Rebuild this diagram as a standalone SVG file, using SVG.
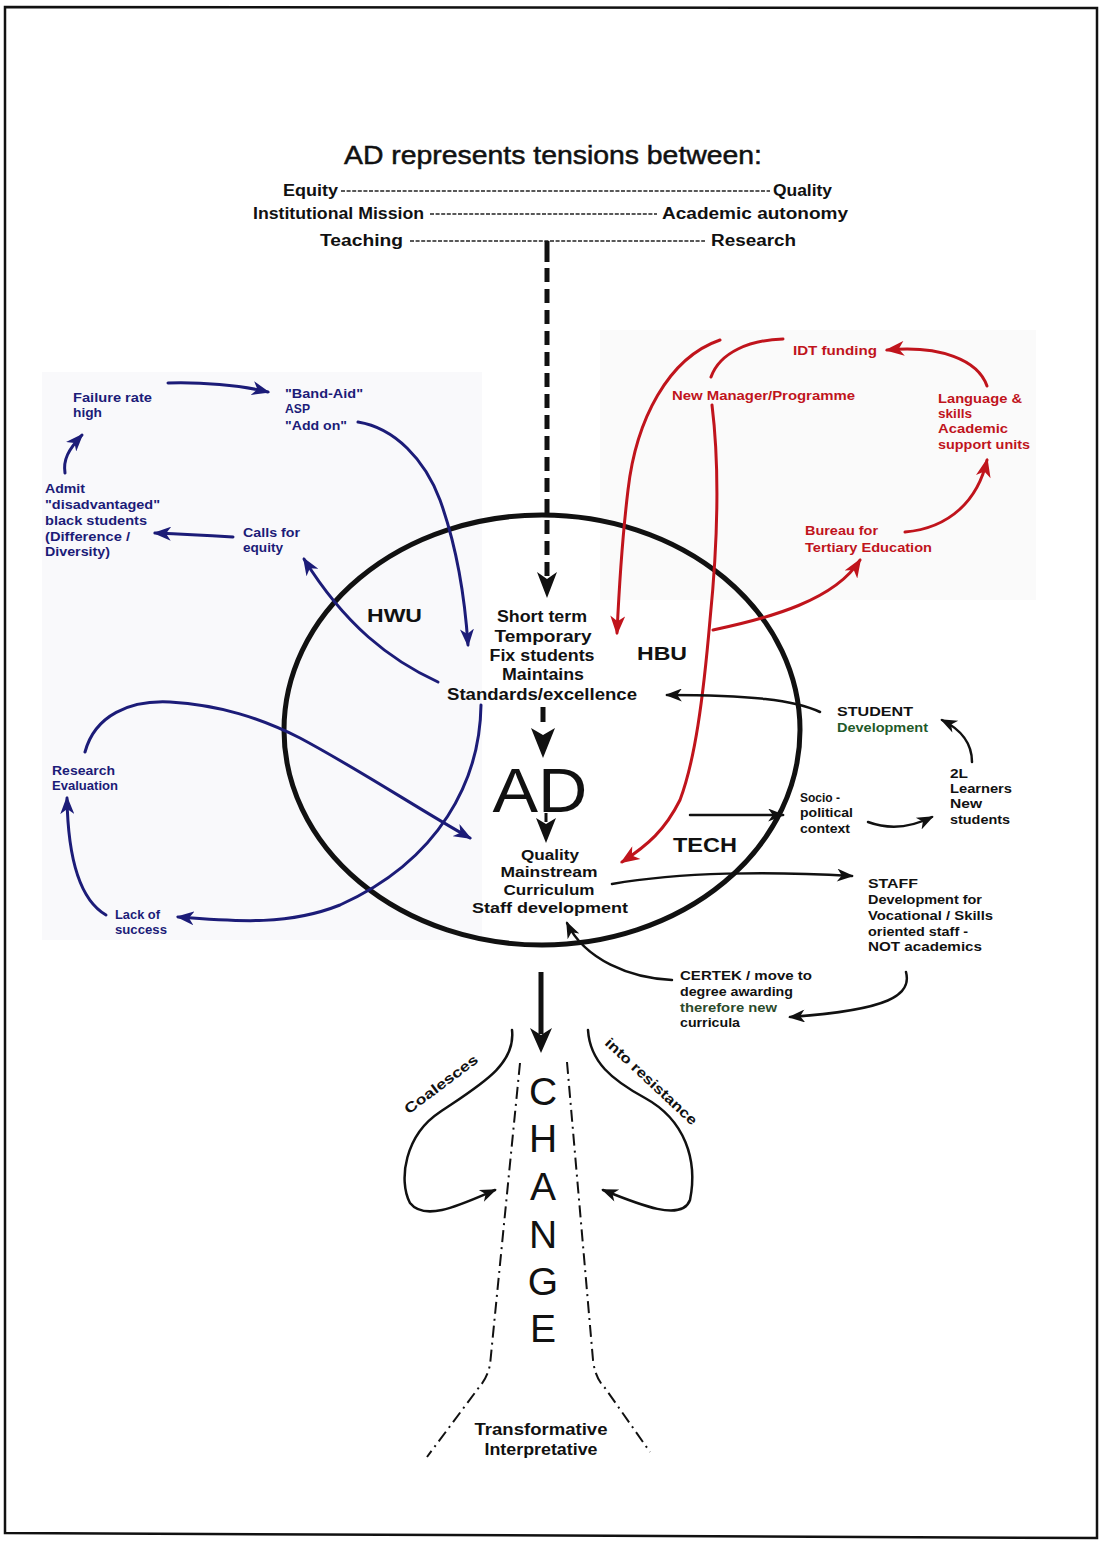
<svg xmlns="http://www.w3.org/2000/svg" width="1099" height="1544" viewBox="0 0 1099 1544">
<style>
text{font-family:"Liberation Sans",Arial,sans-serif;font-weight:bold;fill:#111}
.s{font-size:13px}
.m{font-size:16px}
.n{font-size:15.5px}
.c{text-anchor:middle}
.blue{fill:#1c1c78}
.red{fill:#c0141c}
.grn{fill:#1f5a2a}
.lb{fill:none;stroke:#1c1c78;stroke-width:3;stroke-linecap:round}
.lr{fill:none;stroke:#c0141c;stroke-width:3;stroke-linecap:round}
.lk{fill:none;stroke:#111;stroke-width:2.5;stroke-linecap:round}
.dd{fill:none;stroke:#111;stroke-width:2;stroke-dasharray:12 5 2 5}
.hy{stroke:#222;stroke-width:1.3;stroke-dasharray:4 1.6}
</style>
<defs>
<marker id="mb" viewBox="0 0 18 14" refX="16" refY="7" markerWidth="18" markerHeight="14" orient="auto" markerUnits="userSpaceOnUse"><path d="M0,0 L18,7 L0,14 L5,7z" fill="#1c1c78"/></marker>
<marker id="mr" viewBox="0 0 18 14" refX="16" refY="7" markerWidth="20" markerHeight="15" orient="auto" markerUnits="userSpaceOnUse"><path d="M0,0 L18,7 L0,14 L5,7z" fill="#c0141c"/></marker>
<marker id="mk" viewBox="0 0 18 14" refX="16" refY="7" markerWidth="18" markerHeight="13" orient="auto" markerUnits="userSpaceOnUse"><path d="M0,0 L18,7 L0,14 L5,7z" fill="#111"/></marker>
</defs>
<rect width="1099" height="1544" fill="#fff"/>
<rect x="42" y="372" width="440" height="568" fill="#f9f9fb"/>
<rect x="600" y="330" width="436" height="270" fill="#fafafa"/>
<path d="M5,7 L1097,8 L1097,1538 L5,1533 Z" fill="none" stroke="#111" stroke-width="2.5"/>

<g id="title">
<text x="553" y="164" class="c" style="font-size:26px;font-weight:normal;stroke:#111;stroke-width:0.5" textLength="418" lengthAdjust="spacingAndGlyphs">AD represents tensions between:</text>
<text x="283" y="196" class="m" textLength="55" lengthAdjust="spacingAndGlyphs">Equity</text>
<line x1="341" y1="191" x2="770" y2="191" class="hy"/>
<text x="773" y="196" class="m" textLength="59" lengthAdjust="spacingAndGlyphs">Quality</text>
<text x="253" y="219" class="m" textLength="171" lengthAdjust="spacingAndGlyphs">Institutional Mission</text>
<line x1="430" y1="214" x2="657" y2="214" class="hy"/>
<text x="662" y="219" class="m" textLength="186" lengthAdjust="spacingAndGlyphs">Academic autonomy</text>
<text x="320" y="246" class="m" textLength="83" lengthAdjust="spacingAndGlyphs">Teaching</text>
<line x1="410" y1="241" x2="705" y2="241" class="hy"/>
<text x="711" y="246" class="m" textLength="85" lengthAdjust="spacingAndGlyphs">Research</text>
</g>

<g id="ellipse-ad">
<ellipse cx="542" cy="730" rx="258" ry="215" fill="none" stroke="#111" stroke-width="5"/>
</g>

<g id="node-short-term">
<text x="542" y="622" class="m c" textLength="90" lengthAdjust="spacingAndGlyphs">Short term</text>
<text x="543" y="642" class="m c" textLength="97" lengthAdjust="spacingAndGlyphs">Temporary</text>
<text x="542" y="661" class="m c" textLength="105" lengthAdjust="spacingAndGlyphs">Fix students</text>
<text x="543" y="680" class="m c" textLength="82" lengthAdjust="spacingAndGlyphs">Maintains</text>
<text x="542" y="700" class="m c" textLength="190" lengthAdjust="spacingAndGlyphs">Standards/excellence</text>
</g>
<g id="node-ad">
<text x="540" y="812" class="c" style="font-size:63px;font-weight:normal" textLength="95" lengthAdjust="spacingAndGlyphs">AD</text>
</g>
<g id="node-quality">
<text x="550" y="860" class="n c" textLength="58" lengthAdjust="spacingAndGlyphs">Quality</text>
<text x="549" y="877" class="n c" textLength="97" lengthAdjust="spacingAndGlyphs">Mainstream</text>
<text x="549" y="895" class="n c" textLength="91" lengthAdjust="spacingAndGlyphs">Curriculum</text>
<text x="550" y="913" class="n c" textLength="156" lengthAdjust="spacingAndGlyphs">Staff development</text>
</g>
<g id="node-hwu"><text x="367" y="622" style="font-size:19px" textLength="55" lengthAdjust="spacingAndGlyphs">HWU</text></g>
<g id="node-hbu"><text x="637" y="660" style="font-size:19px" textLength="50" lengthAdjust="spacingAndGlyphs">HBU</text></g>
<g id="node-tech"><text x="673" y="852" style="font-size:21px" textLength="64" lengthAdjust="spacingAndGlyphs">TECH</text></g>

<g id="node-failure">
<text x="73" y="402" class="s blue" textLength="79" lengthAdjust="spacingAndGlyphs">Failure rate</text>
<text x="73" y="417" class="s blue" textLength="29" lengthAdjust="spacingAndGlyphs">high</text>
</g>
<g id="node-bandaid">
<text x="285" y="398" class="s blue" textLength="78" lengthAdjust="spacingAndGlyphs">"Band-Aid"</text>
<text x="285" y="413" class="s blue" textLength="25" lengthAdjust="spacingAndGlyphs">ASP</text>
<text x="285" y="430" class="s blue" textLength="62" lengthAdjust="spacingAndGlyphs">"Add on"</text>
</g>
<g id="node-admit">
<text x="45" y="493" class="s blue" textLength="40" lengthAdjust="spacingAndGlyphs">Admit</text>
<text x="45" y="509" class="s blue" textLength="115" lengthAdjust="spacingAndGlyphs">"disadvantaged"</text>
<text x="45" y="525" class="s blue" textLength="102" lengthAdjust="spacingAndGlyphs">black students</text>
<text x="45" y="541" class="s blue" textLength="85" lengthAdjust="spacingAndGlyphs">(Difference /</text>
<text x="45" y="556" class="s blue" textLength="65" lengthAdjust="spacingAndGlyphs">Diversity)</text>
</g>
<g id="node-calls">
<text x="243" y="537" class="s blue" textLength="57" lengthAdjust="spacingAndGlyphs">Calls for</text>
<text x="243" y="552" class="s blue" textLength="40" lengthAdjust="spacingAndGlyphs">equity</text>
</g>
<g id="node-research">
<text x="52" y="775" class="s blue" textLength="63" lengthAdjust="spacingAndGlyphs">Research</text>
<text x="52" y="790" class="s blue" textLength="66" lengthAdjust="spacingAndGlyphs">Evaluation</text>
</g>
<g id="node-lack">
<text x="115" y="919" class="s blue" textLength="45" lengthAdjust="spacingAndGlyphs">Lack of</text>
<text x="115" y="934" class="s blue" textLength="52" lengthAdjust="spacingAndGlyphs">success</text>
</g>

<g id="node-idt"><text x="793" y="355" class="s red" textLength="84" lengthAdjust="spacingAndGlyphs">IDT funding</text></g>
<g id="node-newmanager"><text x="672" y="400" class="s red" textLength="183" lengthAdjust="spacingAndGlyphs">New Manager/Programme</text></g>
<g id="node-language">
<text x="938" y="403" class="s red" textLength="84" lengthAdjust="spacingAndGlyphs">Language &amp;</text>
<text x="938" y="418" class="s red" textLength="34" lengthAdjust="spacingAndGlyphs">skills</text>
<text x="938" y="433" class="s red" textLength="70" lengthAdjust="spacingAndGlyphs">Academic</text>
<text x="938" y="449" class="s red" textLength="92" lengthAdjust="spacingAndGlyphs">support units</text>
</g>
<g id="node-bureau">
<text x="805" y="535" class="s red" textLength="73" lengthAdjust="spacingAndGlyphs">Bureau for</text>
<text x="805" y="552" class="s red" textLength="127" lengthAdjust="spacingAndGlyphs">Tertiary Education</text>
</g>

<g id="node-student">
<text x="837" y="716" class="s" textLength="76" lengthAdjust="spacingAndGlyphs">STUDENT</text>
<text x="837" y="732" class="s grn" textLength="91" lengthAdjust="spacingAndGlyphs">Development</text>
</g>
<g id="node-2l">
<text x="950" y="778" class="s" textLength="18" lengthAdjust="spacingAndGlyphs">2L</text>
<text x="950" y="793" class="s" textLength="62" lengthAdjust="spacingAndGlyphs">Learners</text>
<text x="950" y="808" class="s" textLength="32" lengthAdjust="spacingAndGlyphs">New</text>
<text x="950" y="824" class="s" textLength="60" lengthAdjust="spacingAndGlyphs">students</text>
</g>
<g id="node-socio">
<text x="800" y="802" class="s" textLength="40" lengthAdjust="spacingAndGlyphs">Socio -</text>
<text x="800" y="817" class="s" textLength="53" lengthAdjust="spacingAndGlyphs">political</text>
<text x="800" y="833" class="s" textLength="50" lengthAdjust="spacingAndGlyphs">context</text>
</g>
<g id="node-staff">
<text x="868" y="888" class="s" textLength="50" lengthAdjust="spacingAndGlyphs">STAFF</text>
<text x="868" y="904" class="s" textLength="114" lengthAdjust="spacingAndGlyphs">Development for</text>
<text x="868" y="920" class="s" textLength="125" lengthAdjust="spacingAndGlyphs">Vocational / Skills</text>
<text x="868" y="936" class="s" textLength="100" lengthAdjust="spacingAndGlyphs">oriented staff -</text>
<text x="868" y="951" class="s" textLength="114" lengthAdjust="spacingAndGlyphs">NOT academics</text>
</g>
<g id="node-certek">
<text x="680" y="980" class="s" textLength="132" lengthAdjust="spacingAndGlyphs">CERTEK / move to</text>
<text x="680" y="996" class="s" textLength="113" lengthAdjust="spacingAndGlyphs">degree awarding</text>
<text x="680" y="1012" class="s" style="fill:#2b4a2b" textLength="97" lengthAdjust="spacingAndGlyphs">therefore new</text>
<text x="680" y="1027" class="s" textLength="60" lengthAdjust="spacingAndGlyphs">curricula</text>
</g>

<g id="node-change">
<text x="543" y="1105" class="c" style="font-size:39px;font-weight:normal">C</text>
<text x="543" y="1152" class="c" style="font-size:39px;font-weight:normal">H</text>
<text x="543" y="1200" class="c" style="font-size:39px;font-weight:normal">A</text>
<text x="543" y="1248" class="c" style="font-size:39px;font-weight:normal">N</text>
<text x="543" y="1295" class="c" style="font-size:39px;font-weight:normal">G</text>
<text x="543" y="1342" class="c" style="font-size:39px;font-weight:normal">E</text>
</g>
<g id="node-coalesces"><text x="444" y="1088" class="c" style="font-size:14px" transform="rotate(-37 444 1088)" textLength="88" lengthAdjust="spacingAndGlyphs">Coalesces</text></g>
<g id="node-resistance"><text x="648" y="1085" class="c" style="font-size:14px" transform="rotate(43 648 1085)" textLength="120" lengthAdjust="spacingAndGlyphs">into resistance</text></g>
<g id="node-transformative">
<text x="541" y="1435" class="m c" textLength="133" lengthAdjust="spacingAndGlyphs">Transformative</text>
<text x="541" y="1455" class="m c" textLength="113" lengthAdjust="spacingAndGlyphs">Interpretative</text>
</g>

<g id="connectors">
<line x1="547" y1="241" x2="547" y2="262" stroke="#111" stroke-width="5"/>
<line x1="547" y1="268" x2="547" y2="576" stroke="#111" stroke-width="5" stroke-dasharray="14 7"/>
<polygon points="537,572 547,579 557,572 547,598" fill="#111"/>
<line x1="543" y1="707" x2="543" y2="722" stroke="#111" stroke-width="5"/>
<polygon points="531,728 543,735 555,728 543,758" fill="#111"/>
<line x1="546" y1="813" x2="546" y2="822" stroke="#111" stroke-width="3"/>
<polygon points="536,818 546,824 556,818 546,843" fill="#111"/>
<line x1="541" y1="972" x2="541" y2="1034" stroke="#111" stroke-width="5"/>
<polygon points="530,1028 541,1035 552,1028 541,1053" fill="#111"/>

<path class="lb" d="M168,383 C200,382 240,385 268,392" marker-end="url(#mb)"/>
<path class="lb" d="M358,422 C395,428 425,460 440,500 C458,550 465,600 468,645" marker-end="url(#mb)"/>
<path class="lb" d="M65,473 C63,460 68,450 82,435" marker-end="url(#mb)"/>
<path class="lb" d="M233,537 C200,535 180,534 155,533" marker-end="url(#mb)"/>
<path class="lb" d="M438,682 C390,660 345,625 304,559" marker-end="url(#mb)"/>
<path class="lb" d="M481,705 C480,780 440,860 340,905 C290,925 240,922 178,917" marker-end="url(#mb)"/>
<path class="lb" d="M85,752 C95,715 130,700 170,702 C220,705 260,718 300,738 C360,770 420,810 470,838" marker-end="url(#mb)"/>
<path class="lb" d="M106,915 C80,900 68,860 67,798" marker-end="url(#mb)"/>

<path class="lr" d="M720,340 C668,358 636,420 628,490 C622,540 619,590 617,633" marker-end="url(#mr)"/>
<path class="lr" d="M783,339 C750,340 720,352 711,377"/>
<path class="lr" d="M712,405 C720,470 718,540 710,620 C703,700 695,760 680,800 C665,830 648,845 622,862" marker-end="url(#mr)"/>
<path class="lr" d="M713,630 C770,618 835,600 860,560" marker-end="url(#mr)"/>
<path class="lr" d="M905,532 C950,528 978,500 987,460" marker-end="url(#mr)"/>
<path class="lr" d="M987,386 C978,360 940,345 887,350" marker-end="url(#mr)"/>

<path class="lk" d="M820,712 C795,700 750,695 667,695" marker-end="url(#mk)"/>
<path class="lk" d="M972,762 C972,745 962,730 942,720" marker-end="url(#mk)"/>
<path class="lk" d="M690,815 L783,815" marker-end="url(#mk)"/>
<path class="lk" d="M868,822 C890,830 910,828 932,817" marker-end="url(#mk)"/>
<path class="lk" d="M612,884 C680,872 770,871 852,876" marker-end="url(#mk)"/>
<path class="lk" d="M906,972 C912,995 890,1010 790,1017" marker-end="url(#mk)"/>
<path class="lk" d="M672,980 C630,978 585,960 567,923" marker-end="url(#mk)"/>

<path class="lk" d="M512,1030 C516,1065 480,1085 440,1112 C405,1135 398,1180 410,1203 C425,1222 460,1205 495,1190" marker-end="url(#mk)"/>
<path class="lk" d="M588,1030 C590,1062 612,1080 645,1098 C685,1120 698,1160 690,1200 C682,1222 640,1205 603,1190" marker-end="url(#mk)"/>

<path class="dd" d="M520,1063 L490,1365 Q487,1378 480,1386 L427,1457"/>
<path class="dd" d="M567,1062 L593,1360 Q595,1378 605,1388 L650,1452"/>
</g>
</svg>
